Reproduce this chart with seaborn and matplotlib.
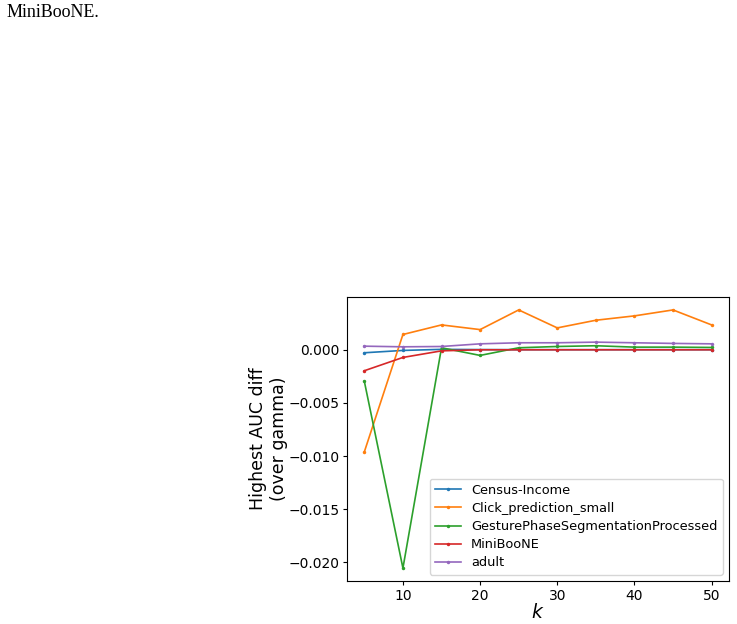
import numpy as np
import pandas as pd
import matplotlib
matplotlib.use("Agg")
import matplotlib.pyplot as plt
import seaborn as sns

k = [5, 10, 15, 20, 25, 30, 35, 40, 45, 50]
census_income = [-0.00028, -0.00006, 0.00004, 0.00002, 0.00001, 0.00001, 0.00001, 0.00001, 0.00001, 0.00001]
click_prediction = [-0.0096, 0.00144, 0.00234, 0.0019, 0.00375, 0.00206, 0.00278, 0.00319, 0.00375, 0.00234]
gesture_phase = [-0.00297, -0.02054, 0.00019, -0.00053, 0.00019, 0.00031, 0.00038, 0.00025, 0.00025, 0.00022]
miniboone = [-0.00197, -0.00072, -0.0001, 0.0, 0.0, 0.0, 0.0, 0.0, 0.0, 0.0]
adult = [0.00034, 0.00028, 0.00031, 0.00056, 0.00066, 0.00066, 0.00072, 0.00066, 0.0006, 0.00056]

series = {
    "Census-Income": census_income,
    "Click_prediction_small": click_prediction,
    "GesturePhaseSegmentationProcessed": gesture_phase,
    "MiniBooNE": miniboone,
    "adult": adult,
}

df = pd.concat(
    [pd.DataFrame({"k": k, "diff": v, "dataset": name}) for name, v in series.items()],
    ignore_index=True,
)

fig = plt.figure(figsize=(7.37, 6.24), dpi=100)
ax = fig.add_axes([0.4708, 0.0689, 0.5183, 0.4551])

sns.lineplot(data=df, x="k", y="diff", hue="dataset", palette="tab10",
             marker=".", markersize=5, markeredgewidth=0, linewidth=1.2, ax=ax)

ax.tick_params(labelsize=10, length=3, pad=2.5)
ax.set_xlabel("$k$", fontsize=13.5, labelpad=0)
ax.set_ylabel("Highest AUC diff\n(over gamma)", fontsize=12.5, labelpad=0)
ax.legend(loc="lower right", fontsize=9.3, labelspacing=0.4)

# fragment of the surrounding page text
fig.text(0.0095, 0.972, "MiniBooNE.", family="Liberation Serif", fontsize=13, va="baseline")

fig.savefig("out.png", dpi=100)
